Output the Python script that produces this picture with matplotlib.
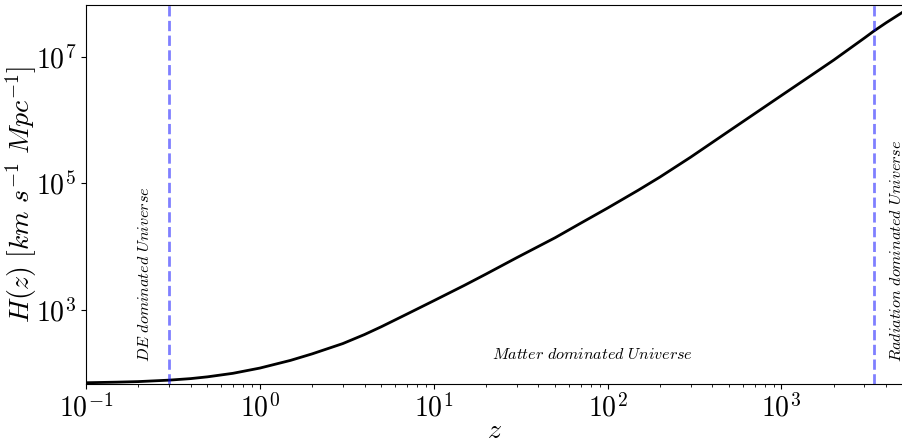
import numpy as np
import matplotlib
matplotlib.use('Agg')
import matplotlib.pyplot as plt
from matplotlib.ticker import FuncFormatter, LogLocator, NullLocator

plt.rcParams['mathtext.fontset'] = 'cm'

# values
z = [0.1, 0.15, 0.2, 0.3, 0.4, 0.5, 0.7, 1, 1.5, 2, 3, 4, 5, 7, 10, 15, 20, 30,
     50, 70, 100, 150, 200, 300, 500, 700, 1000, 1500, 2000, 3000, 3400, 4000, 5000]
Hz = [71, 72.5, 74, 78, 82.5, 88, 100, 121, 160, 203, 295, 410, 545, 860, 1400,
      2450, 3700, 6700, 13900, 23500, 40800, 78000, 1.26e5, 2.59e5, 6.73e5,
      1.26e6, 2.45e6, 5.2e6, 8.9e6, 1.98e7, 2.55e7, 3.45e7, 5.1e7]

z_de = 0.3
z_eq = 3400

fig = plt.figure(figsize=(9.03, 4.46), dpi=100)
ax = fig.add_axes([0.0952, 0.139, 0.9048, 0.85])

ax.plot(z, Hz, color='k', lw=2)
ax.axvline(z_de, color='b', alpha=0.5, ls='--', lw=2)
ax.axvline(z_eq, color='b', alpha=0.5, ls='--', lw=2)

ax.set_xscale('log')
ax.set_yscale('log')
ax.set_xlim(0.1, 5000)
ax.set_ylim(67.8, 6.6e7)

fmt = FuncFormatter(lambda v, p: r'$10^{%d}$' % round(np.log10(v)))
ax.xaxis.set_major_locator(LogLocator(base=10, numticks=10))
ax.xaxis.set_major_formatter(fmt)
ax.set_yticks([1e3, 1e5, 1e7])
ax.yaxis.set_major_formatter(fmt)
ax.yaxis.set_minor_locator(NullLocator())
ax.tick_params(labelsize=20)

ax.set_xlabel(r'$z$', fontsize=20)
ax.set_ylabel(r'$H(z)\ [km\ s^{-1}\ Mpc^{-1}]$', fontsize=20)
ax.xaxis.set_label_coords(0.5, -0.085)
ax.yaxis.set_label_coords(-0.058, 0.5)

ax.text(0.218, 150, r'$DE\ dominated\ Universe$', rotation=90,
        ha='center', va='bottom', fontsize=11.6)
ax.text(21.5, 195, r'$Matter\ dominated\ Universe$', ha='left', va='center', fontsize=11.6)
ax.text(4580, 150, r'$Radiation\ dominated\ Universe$', rotation=90,
        ha='center', va='bottom', fontsize=11.6)

plt.savefig('out.png', dpi=100)
